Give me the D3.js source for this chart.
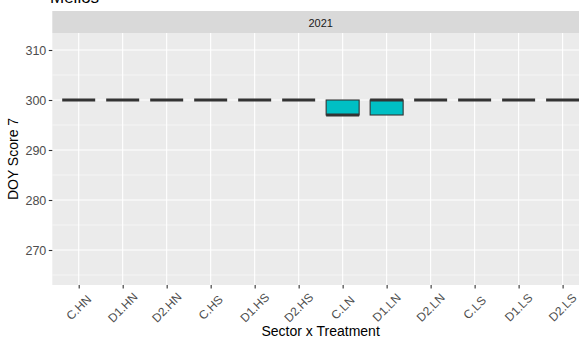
<!DOCTYPE html>
<html>
<head>
<meta charset="utf-8">
<script src="https://cdn.jsdelivr.net/npm/d3@7"></script>
<style>
  html, body { margin: 0; padding: 0; background: #fff; }
  svg { display: block; font-family: "Liberation Sans", Arial, sans-serif; }
</style>
</head>
<body>
<svg id="chart" width="579" height="339"></svg>
<script>
// Sector x Treatment groups and their DOY score 7 distributions
const categories = ["C.HN", "D1.HN", "D2.HN", "C.HS", "D1.HS", "D2.HS",
                    "C.LN", "D1.LN", "D2.LN", "C.LS", "D1.LS", "D2.LS"];
const lowerWhisker = [300, 300, 300, 300, 300, 300, 297, 297, 300, 300, 300, 300];
const lowerQuartile = [300, 300, 300, 300, 300, 300, 297, 297, 300, 300, 300, 300];
const medians      = [300, 300, 300, 300, 300, 300, 297, 300, 300, 300, 300, 300];
const upperQuartile = [300, 300, 300, 300, 300, 300, 300, 300, 300, 300, 300, 300];
const upperWhisker = [300, 300, 300, 300, 300, 300, 300, 300, 300, 300, 300, 300];
const yTicks = [270, 280, 290, 300, 310];
const yMinor = [265, 275, 285, 295, 305];
const facetLabel = "2021";
const title = "Melios";

const rows = categories.map((c, i) => ({
  cat: c, lo: lowerWhisker[i], q1: lowerQuartile[i], med: medians[i],
  q3: upperQuartile[i], hi: upperWhisker[i]
}));

const svg = d3.select("#chart");
const panel = { left: 52.3, top: 33, right: 589, bottom: 285 };

const x = d3.scalePoint().domain(categories)
  .range([panel.left, panel.right]).padding(0.6);
const y = d3.scaleLinear().domain([263, 313.4]).range([panel.bottom, panel.top]);
const boxW = x.step() * 0.75;

// plot title, sitting at the very top edge
svg.append("text").attr("x", 50).attr("y", 2.5)
  .attr("font-size", 17).attr("fill", "#000").text(title);

// facet strip
svg.append("rect").attr("x", panel.left).attr("y", 11)
  .attr("width", panel.right - panel.left).attr("height", 22).attr("fill", "#D9D9D9");
svg.append("text").attr("x", (panel.left + panel.right) / 2).attr("y", 23)
  .attr("dy", "0.35em").attr("text-anchor", "middle")
  .attr("font-size", 11).attr("fill", "#1A1A1A").text(facetLabel);

// panel background and grid
svg.append("rect").attr("x", panel.left).attr("y", panel.top)
  .attr("width", panel.right - panel.left).attr("height", panel.bottom - panel.top)
  .attr("fill", "#EBEBEB");
const grid = svg.append("g");
grid.selectAll(".minor").data(yMinor).join("line")
  .attr("x1", panel.left).attr("x2", panel.right)
  .attr("y1", d => y(d)).attr("y2", d => y(d))
  .attr("stroke", "#fff").attr("stroke-width", 0.55);
grid.selectAll(".majorY").data(yTicks).join("line")
  .attr("x1", panel.left).attr("x2", panel.right)
  .attr("y1", d => y(d)).attr("y2", d => y(d))
  .attr("stroke", "#fff").attr("stroke-width", 1.1);
grid.selectAll(".majorX").data(categories).join("line")
  .attr("x1", d => x(d)).attr("x2", d => x(d))
  .attr("y1", panel.top).attr("y2", panel.bottom)
  .attr("stroke", "#fff").attr("stroke-width", 1.1);

// boxplots
const boxes = svg.append("g").selectAll("g").data(rows).join("g");
boxes.append("line")
  .attr("x1", d => x(d.cat)).attr("x2", d => x(d.cat))
  .attr("y1", d => y(d.hi)).attr("y2", d => y(d.q3))
  .attr("stroke", "#333").attr("stroke-width", 1.1);
boxes.append("line")
  .attr("x1", d => x(d.cat)).attr("x2", d => x(d.cat))
  .attr("y1", d => y(d.q1)).attr("y2", d => y(d.lo))
  .attr("stroke", "#333").attr("stroke-width", 1.1);
boxes.append("rect")
  .attr("x", d => x(d.cat) - boxW / 2).attr("width", boxW)
  .attr("y", d => y(d.q3)).attr("height", d => y(d.q1) - y(d.q3))
  .attr("fill", "#00BFC4").attr("stroke", "#333").attr("stroke-width", 1.1);
boxes.append("line")
  .attr("x1", d => x(d.cat) - boxW / 2).attr("x2", d => x(d.cat) + boxW / 2)
  .attr("y1", d => y(d.med)).attr("y2", d => y(d.med))
  .attr("stroke", "#333").attr("stroke-width", 2.8);

// y axis
const yAxis = svg.append("g").attr("transform", `translate(${panel.left},0)`)
  .call(d3.axisLeft(y).tickValues(yTicks).tickSize(3.5).tickPadding(2.5));
yAxis.select(".domain").remove();
yAxis.selectAll(".tick line").attr("stroke", "#333").attr("stroke-width", 1.1);
yAxis.selectAll(".tick text").attr("fill", "#4D4D4D").attr("font-size", 12.5)
  .attr("font-family", "'Liberation Sans', Arial, sans-serif");

// x axis
const xAxis = svg.append("g").attr("transform", `translate(0,${panel.bottom})`)
  .call(d3.axisBottom(x).tickSize(3.5).tickFormat(""));
xAxis.select(".domain").remove();
xAxis.selectAll(".tick line").attr("stroke", "#333").attr("stroke-width", 1.1);
svg.append("g").selectAll("text").data(categories).join("text")
  .attr("transform", d => `translate(${x(d)},307.5) rotate(-45)`)
  .attr("text-anchor", "middle").attr("dy", "0.35em")
  .attr("font-size", 12).attr("fill", "#4D4D4D").text(d => d);

// axis titles
svg.append("text").attr("x", (panel.left + panel.right) / 2).attr("y", 336)
  .attr("text-anchor", "middle").attr("font-size", 14).attr("fill", "#000")
  .text("Sector x Treatment");
svg.append("text").attr("transform", `translate(18.3,${(panel.top + panel.bottom) / 2}) rotate(-90)`)
  .attr("text-anchor", "middle").attr("font-size", 14).attr("fill", "#000")
  .text("DOY Score 7");
</script>
</body>
</html>
